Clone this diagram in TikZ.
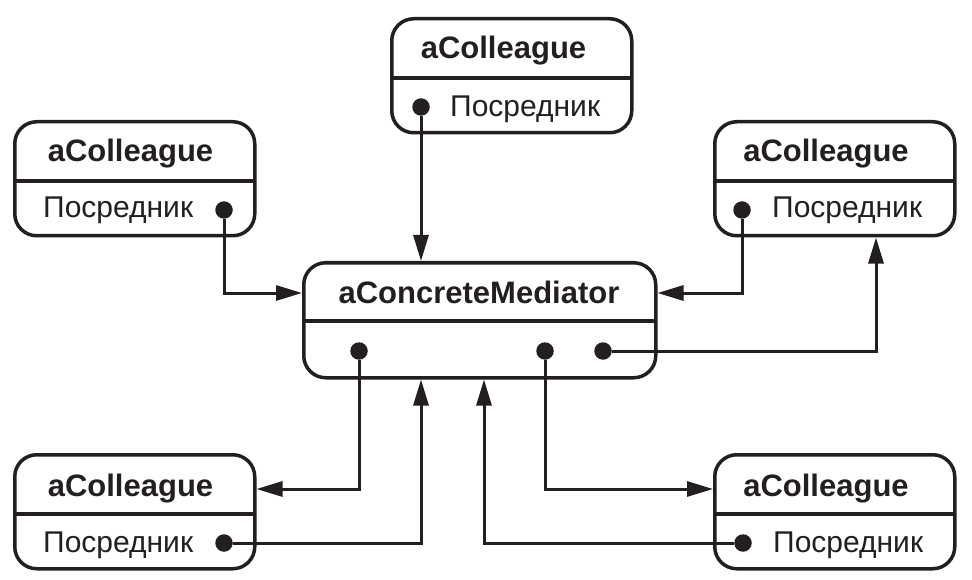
\documentclass[tikz,border=0pt]{standalone}
\usepackage{fontspec}
\setmainfont{Liberation Sans}
\usetikzlibrary{arrows.meta}
\definecolor{ink}{HTML}{231F20}
\begin{document}
\begin{tikzpicture}[x=1pt,y=-1pt,
  box/.style={draw=ink, line width=3.5pt, rounded corners=22pt, minimum width=240pt, minimum height=114pt, anchor=north west, inner sep=0pt},
  medbox/.style={box, minimum width=352pt, minimum height=115pt},
  divline/.style={draw=ink, line width=3.5pt},
  ttl/.style={font=\fontsize{31}{37}\selectfont\bfseries, text=ink, anchor=base, inner sep=0pt},
  attr/.style={font=\fontsize{30}{36}\selectfont, text=ink, anchor=base west, inner sep=0pt},
  dot/.style={circle, fill=ink, inner sep=0pt, minimum size=17.5pt},
  conn/.style={draw=ink, line width=3pt, -{Triangle[length=26pt,width=15pt]}}
]
\useasboundingbox (0,0) rectangle (972,580);
\fill[white] (0,0) rectangle (972,580);

% boxes
\node[box] (T)  at (390,17) {};
\node[box] (TL) at (13,120) {};
\node[box] (TR) at (713,120) {};
\node[box] (BL) at (13,453) {};
\node[box] (BR) at (713,453) {};
\node[medbox] (M) at (302,261) {};

% dividers
\foreach \b/\y in {T/78, TL/181, TR/181, BL/514, BR/514, M/321}{
  \draw[divline] ([xshift=1.75pt]\b.west |- 0,\y) -- ([xshift=-1.75pt]\b.east |- 0,\y);
}

% titles
\node[ttl] (tT)  at (503.5,59) {aColleague};
\node[ttl] (tTL) at (130.5,162) {aColleague};
\node[ttl] (tTR) at (826,162)  {aColleague};
\node[ttl] (tBL) at (130.5,496) {aColleague};
\node[ttl] (tBR) at (826,496)  {aColleague};
\node[ttl] (tM)  at (479,303)  {aConcreteMediator};

% attributes
\node[attr] (aT)  at (450,117) {Посредник};
\node[attr] (aTL) at (43,218)  {Посредник};
\node[attr] (aTR) at (772,218) {Посредник};
\node[attr] (aBL) at (43,552)  {Посредник};
\node[attr] (aBR) at (773,552) {Посредник};

% dots
\node[dot] (dT)  at (421,107) {};
\node[dot] (dTL) at (224,210) {};
\node[dot] (dTR) at (742,210) {};
\node[dot] (dBL) at (224,543) {};
\node[dot] (dBR) at (743,543) {};
\node[dot] (dM1) at (359,351) {};
\node[dot] (dM2) at (545,351) {};
\node[dot] (dM3) at (603,351) {};

% lanes
\coordinate (yIn) at (0,293);
\coordinate (yOut) at (0,489);
\coordinate (xR) at (876,0);
\coordinate (xA) at (421,0);
\coordinate (xB) at (484,0);

% connectors
\draw[conn] (dT) -- (dT |- M.north);
\draw[conn] (dTL) |- (M.west |- yIn);
\draw[conn] (dTR) |- (M.east |- yIn);
\draw[conn] (dM3) -| (xR |- TR.south);
\draw[conn] (dM1) |- (BL.east |- yOut);
\draw[conn] (dM2) |- (BR.west |- yOut);
\draw[conn] (dBL) -| (xA |- M.south);
\draw[conn] (dBR) -| (xB |- M.south);
\end{tikzpicture}
\end{document}
